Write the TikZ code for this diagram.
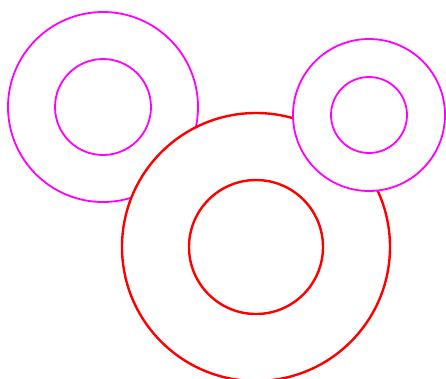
\documentclass[tikz,border=0pt]{standalone}
\begin{document}
\begin{tikzpicture}[x=1pt,y=-1pt,
  mag/.style={draw={rgb,255:red,255;green,0;blue,255},line width=1.8pt},
  redc/.style={draw={rgb,255:red,255;green,0;blue,0},line width=2.4pt}]
\useasboundingbox (0,0) rectangle (446,378);
\clip (0,0) rectangle (446,378);
% left magenta
\node[mag,circle,fill=white,minimum size=190pt,inner sep=0pt] (m1o) at (103,107) {};
\node[mag,circle,minimum size=96pt,inner sep=0pt] (m1i) at (103,107) {};
% red
\node[redc,circle,fill=white,minimum size=268pt,inner sep=0pt] (ro) at (256,247) {};
\node[redc,circle,minimum size=134pt,inner sep=0pt] (ri) at (256,247) {};
% right magenta
\node[mag,circle,fill=white,minimum size=152pt,inner sep=0pt] (m2o) at (369,115) {};
\node[mag,circle,minimum size=76pt,inner sep=0pt] (m2i) at (369,115) {};
\end{tikzpicture}
\end{document}
